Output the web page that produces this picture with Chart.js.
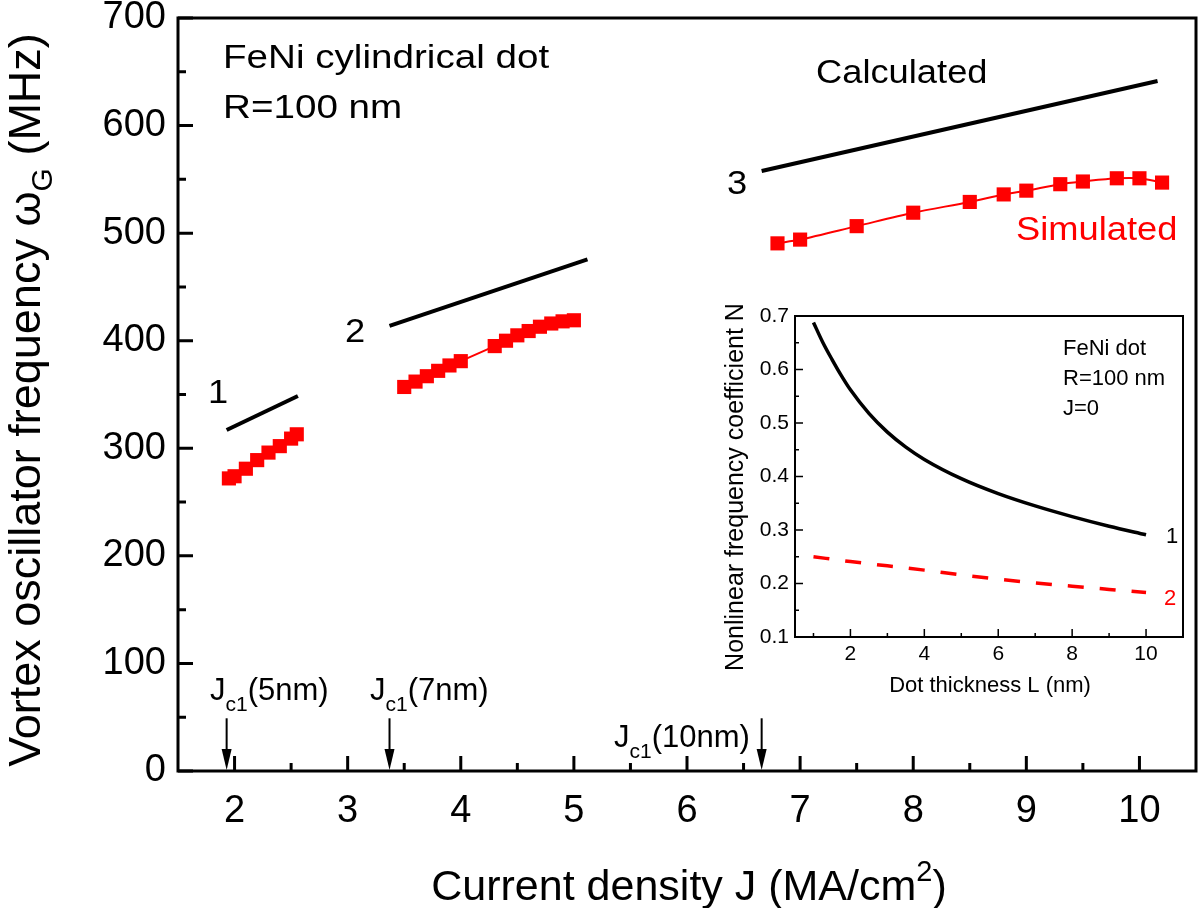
<!DOCTYPE html>
<html><head><meta charset="utf-8">
<script src="https://cdn.jsdelivr.net/npm/chart.js@4.4.1/dist/chart.umd.min.js"></script>
<style>
html,body{margin:0;padding:0;background:#fff;}
#wrap{position:relative;width:1200px;height:908px;overflow:hidden;}
#main{position:absolute;left:0;top:0;}
#inset{position:absolute;left:700px;top:290px;}
</style></head><body>
<div id="wrap"><canvas id="main" width="1206" height="908"></canvas><canvas id="inset" width="500" height="420"></canvas></div>
<script>
// ---------- data (main plot) ----------
const calcJ1 = [1.93, 2.56];
const calcF1 = [317, 348.6];
const calcJ2 = [3.37, 5.12];
const calcF2 = [413.7, 475.7];
const calcJ3 = [6.66, 10.16];
const calcF3 = [557.8, 641.4];
const simJ1 = [1.95, 2.0, 2.1, 2.2, 2.3, 2.4, 2.5, 2.55];
const simF1 = [272, 274, 281, 289, 296, 302, 309, 313];
const simJ2 = [3.5, 3.6, 3.7, 3.8, 3.9, 4.0, 4.3, 4.4, 4.5, 4.6, 4.7, 4.8, 4.9, 5.0];
const simF2 = [357, 362, 367, 372, 377, 381, 395, 400, 405, 409, 413, 416, 418, 419];
const simJ3 = [6.8, 7.0, 7.5, 8.0, 8.5, 8.8, 9.0, 9.3, 9.5, 9.8, 10.0, 10.2];
const simF3 = [490.5, 494, 506.5, 519, 529, 536, 539.5, 545.5, 548, 551, 551, 547];
const jc1Values = [1.93, 3.37, 6.66];
const jc1Labels = ['(5nm)', '(7nm)', '(10nm)'];
const xTicks = [2, 3, 4, 5, 6, 7, 8, 9, 10];
const yTicks = [0, 100, 200, 300, 400, 500, 600, 700];
// ---------- data (inset) ----------
const insetL1 = [1, 1.25, 1.5, 1.75, 2, 2.5, 3, 3.5, 4, 5, 6, 7, 8, 9, 10];
const insetN1 = [0.688, 0.651, 0.619, 0.589, 0.562, 0.518, 0.483, 0.455, 0.432, 0.396, 0.368, 0.345, 0.325, 0.307, 0.291];
const insetL2 = [1, 2, 3, 4, 5, 6, 7, 8, 9, 10];
const insetN2 = [0.250, 0.241, 0.233, 0.225, 0.216, 0.208, 0.201, 0.195, 0.189, 0.183];
const insetXTicks = [2, 4, 6, 8, 10];
const insetYTicks = [0.1, 0.2, 0.3, 0.4, 0.5, 0.6, 0.7];

const FONT = '"Liberation Sans", Arial, Helvetica, sans-serif';
const pts = (xs, ys) => xs.map((x, i) => ({x: x, y: ys[i]}));
const mids = (t) => t.slice(1).map((v, i) => (v + t[i]) / 2);
const noPadX = s => { s.paddingLeft = 0; s.paddingRight = 0; };
const noPadY = s => { s.paddingTop = 0; s.paddingBottom = 0; };

function rich(ctx, runs, x, y, o) {
  o = o || {};
  ctx.save();
  ctx.translate(x, y);
  if (o.rot) ctx.rotate(o.rot);
  ctx.scale(o.sx || 1, 1);
  ctx.fillStyle = o.color || '#000';
  ctx.textBaseline = 'alphabetic';
  ctx.textAlign = 'left';
  let w = 0;
  runs.forEach(r => { ctx.font = r.size + 'px ' + FONT; r.w = ctx.measureText(r.t).width; w += r.w; });
  let cx = o.align === 'center' ? -w / 2 : (o.align === 'right' ? -w : 0);
  runs.forEach(r => { ctx.font = r.size + 'px ' + FONT; ctx.fillText(r.t, cx, r.dy || 0); cx += r.w; });
  ctx.restore();
}
function txt(ctx, s, x, y, size, o) { rich(ctx, [{t: s, size: size}], x, y, o); }

function drawFrameTicks(ctx, chart, cfg) {
  const a = chart.chartArea, xs = chart.scales.x, ys = chart.scales.y;
  ctx.save();
  ctx.strokeStyle = '#000';
  ctx.lineWidth = cfg.tickW;
  ctx.beginPath();
  cfg.xMajor.forEach(v => { const p = xs.getPixelForValue(v); ctx.moveTo(p, a.bottom); ctx.lineTo(p, a.bottom - cfg.major); });
  cfg.xMinor.forEach(v => { const p = xs.getPixelForValue(v); ctx.moveTo(p, a.bottom); ctx.lineTo(p, a.bottom - cfg.minor); });
  cfg.yMajor.forEach(v => { const p = ys.getPixelForValue(v); ctx.moveTo(a.left, p); ctx.lineTo(a.left + cfg.major, p); });
  cfg.yMinor.forEach(v => { const p = ys.getPixelForValue(v); ctx.moveTo(a.left, p); ctx.lineTo(a.left + cfg.minor, p); });
  ctx.stroke();
  ctx.lineWidth = cfg.frameW;
  ctx.strokeRect(a.left, a.top, a.right - a.left, a.bottom - a.top);
  ctx.restore();
}

// ---------- main chart ----------
const mainPlugin = {
  id: 'mainDeco',
  afterDatasetsDraw(chart) {
    const ctx = chart.ctx, xs = chart.scales.x, ys = chart.scales.y;
    drawFrameTicks(ctx, chart, {
      xMajor: xTicks, xMinor: mids(xTicks), yMajor: yTicks, yMinor: mids(yTicks),
      major: 15, minor: 8, tickW: 3, frameW: 3
    });
    // arrows for J_c1
    ctx.save();
    ctx.strokeStyle = '#000'; ctx.fillStyle = '#000'; ctx.lineWidth = 2;
    jc1Values.forEach(v => {
      const p = xs.getPixelForValue(v);
      const top = ys.getPixelForValue(49), bot = ys.getPixelForValue(0);
      ctx.beginPath(); ctx.moveTo(p, top); ctx.lineTo(p, bot - 18); ctx.stroke();
      ctx.beginPath(); ctx.moveTo(p - 5, bot - 22); ctx.lineTo(p + 5, bot - 22); ctx.lineTo(p, bot - 1); ctx.closePath(); ctx.fill();
    });
    ctx.restore();
    const lab = (s) => [{t: 'J', size: 31}, {t: 'c1', size: 21, dy: 11}, {t: s, size: 31}];
    rich(ctx, lab(jc1Labels[0]), 210, 700);
    rich(ctx, lab(jc1Labels[1]), 370, 700);
    rich(ctx, lab(jc1Labels[2]), 614, 747);
    // annotations
    txt(ctx, 'FeNi cylindrical dot', 223, 68, 33, {sx: 1.17});
    txt(ctx, 'R=100 nm', 223, 118, 33, {sx: 1.17});
    txt(ctx, 'Calculated', 816, 83, 33, {sx: 1.1});
    txt(ctx, 'Simulated', 1016, 240, 33, {sx: 1.1, color: '#ff0000'});
    txt(ctx, '1', 218, 403, 33, {align: 'center', sx: 1.1});
    txt(ctx, '2', 355, 342, 33, {align: 'center', sx: 1.1});
    txt(ctx, '3', 737, 194, 33, {align: 'center', sx: 1.1});
    // axis titles
    rich(ctx, [{t: 'Vortex oscillator frequency ω', size: 45}, {t: 'G', size: 30, dy: 12}, {t: ' (MHz)', size: 45}],
      40, 400, {align: 'center', rot: -Math.PI / 2});
    rich(ctx, [{t: 'Current density J (MA/cm', size: 43}, {t: '2', size: 29, dy: -19}, {t: ')', size: 43}],
      689, 900, {align: 'center'});
  }
};

new Chart(document.getElementById('main'), {
  type: 'line',
  data: {
    datasets: [
      {data: pts(calcJ1, calcF1), borderColor: '#000', borderWidth: 4, pointRadius: 0},
      {data: pts(calcJ2, calcF2), borderColor: '#000', borderWidth: 4, pointRadius: 0},
      {data: pts(calcJ3, calcF3), borderColor: '#000', borderWidth: 4, pointRadius: 0},
      {data: pts(simJ1, simF1), borderColor: '#ff0000', backgroundColor: '#ff0000', borderWidth: 2, pointStyle: 'rect', pointRadius: 10, pointBorderWidth: 0},
      {data: pts(simJ2, simF2), borderColor: '#ff0000', backgroundColor: '#ff0000', borderWidth: 2, pointStyle: 'rect', pointRadius: 10, pointBorderWidth: 0},
      {data: pts(simJ3, simF3), borderColor: '#ff0000', backgroundColor: '#ff0000', borderWidth: 2, pointStyle: 'rect', pointRadius: 10, pointBorderWidth: 0, tension: 0.3}
    ]
  },
  options: {
    responsive: false, animation: false, devicePixelRatio: 1,
    layout: {padding: {left: 0, top: 18, right: 0, bottom: 0}},
    plugins: {legend: {display: false}, tooltip: {enabled: false}},
    scales: {
      x: {
        type: 'linear', min: 1.5, max: 10.5,
        afterBuildTicks: s => { s.ticks = xTicks.map(v => ({value: v})); },
        afterFit: s => { s.height = 137; noPadX(s); },
        grid: {display: false, drawTicks: false}, border: {display: false},
        ticks: {font: {family: FONT, size: 38}, color: '#000', padding: 18, maxRotation: 0, autoSkip: false}
      },
      y: {
        type: 'linear', min: 0, max: 700,
        afterBuildTicks: s => { s.ticks = yTicks.map(v => ({value: v})); },
        afterFit: s => { s.width = 178; noPadY(s); },
        grid: {display: false, drawTicks: false}, border: {display: false},
        ticks: {font: {family: FONT, size: 38}, color: '#000', padding: 12, autoSkip: false}
      }
    }
  },
  plugins: [mainPlugin]
});

// ---------- inset chart ----------
const insetPlugin = {
  id: 'insetDeco',
  afterDatasetsDraw(chart) {
    const ctx = chart.ctx;
    drawFrameTicks(ctx, chart, {
      xMajor: insetXTicks, xMinor: [1].concat(mids(insetXTicks)), yMajor: insetYTicks, yMinor: mids(insetYTicks),
      major: 8, minor: 4, tickW: 1.5, frameW: 2
    });
    txt(ctx, 'FeNi dot', 363, 65, 22);
    txt(ctx, 'R=100 nm', 363, 95, 22);
    txt(ctx, 'J=0', 363, 125, 22);
    txt(ctx, '1', 472, 253, 22, {align: 'center'});
    txt(ctx, '2', 470, 315, 22, {align: 'center', color: '#ff0000'});
    txt(ctx, 'Dot thickness L (nm)', 290, 402, 22, {align: 'center'});
    txt(ctx, 'Nonlinear frequency coefficient N', 43, 197, 25, {align: 'center', rot: -Math.PI / 2});
  }
};

new Chart(document.getElementById('inset'), {
  type: 'line',
  data: {
    datasets: [
      {data: pts(insetL1, insetN1), borderColor: '#000', borderWidth: 3.5, pointRadius: 0, cubicInterpolationMode: 'monotone'},
      {data: pts(insetL2, insetN2), borderColor: '#ff0000', borderWidth: 3.5, pointRadius: 0, borderDash: [16, 16], cubicInterpolationMode: 'monotone'}
    ]
  },
  options: {
    responsive: false, animation: false, devicePixelRatio: 1,
    layout: {padding: {left: 0, top: 26, right: 17, bottom: 0}},
    plugins: {legend: {display: false}, tooltip: {enabled: false}},
    scales: {
      x: {
        type: 'linear', min: 0.5, max: 11,
        afterBuildTicks: s => { s.ticks = insetXTicks.map(v => ({value: v})); },
        afterFit: s => { s.height = 73; noPadX(s); },
        grid: {display: false, drawTicks: false}, border: {display: false},
        ticks: {font: {family: FONT, size: 21}, color: '#000', padding: 5, maxRotation: 0, autoSkip: false}
      },
      y: {
        type: 'linear', min: 0.1, max: 0.7,
        afterBuildTicks: s => { s.ticks = insetYTicks.map(v => ({value: v})); },
        afterFit: s => { s.width = 95; noPadY(s); },
        grid: {display: false, drawTicks: false}, border: {display: false},
        ticks: {font: {family: FONT, size: 21}, color: '#000', padding: 6, autoSkip: false,
          callback: v => Number(v).toFixed(1)}
      }
    }
  },
  plugins: [insetPlugin]
});
</script>
</body></html>
